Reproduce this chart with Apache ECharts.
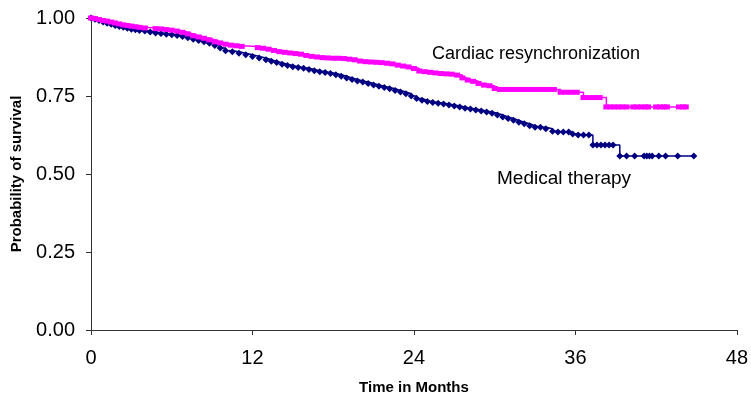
<!DOCTYPE html>
<html>
<head>
<meta charset="utf-8">
<script src="https://cdn.jsdelivr.net/npm/echarts@6/dist/echarts.min.js"></script>
<style>
  html, body { margin: 0; padding: 0; background: #fff; }
  #chart { width: 751px; height: 403px; }
</style>
</head>
<body>
<div id="chart"></div>
<script>
// значения (месяцы / вероятность выживания)
const medTime = [0, 0.3, 0.6, 0.9, 1.2, 1.5, 1.8, 2.1, 2.4, 2.7, 3.0, 3.3, 3.6, 4.0, 4.4, 4.8, 5.2, 5.6, 6.0, 6.4,
    6.8, 7.2, 7.6, 8.0, 8.4, 8.8, 9.2, 9.6, 10.0, 10.5, 11.0, 11.5, 12.0, 12.5, 13.0, 13.4, 13.8, 14.2, 14.6, 15.0,
    15.4, 15.8, 16.2, 16.6, 17.0, 17.4, 17.8, 18.2, 18.6, 19.0, 19.4, 19.8, 20.2, 20.6, 21.0, 21.4, 21.8, 22.2, 22.6, 23.0,
    23.4, 23.8, 24.2, 24.6, 25.0, 25.4, 25.8, 26.2, 26.6, 27.0, 27.4, 27.8, 28.2, 28.6, 29.0, 29.4, 29.8, 30.2, 30.6, 31.0,
    31.4, 31.8, 32.2, 32.6, 33.0, 33.4, 33.8, 34.3, 34.7, 35.1, 35.5, 35.8, 36.2, 36.6, 37.0, 37.3, 37.6, 37.9, 38.2, 38.5,
    38.8, 39.3, 39.8, 40.4, 41.1, 41.3, 41.5, 41.7, 42.2, 42.7, 43.6, 44.8];
const medSurv = [1.000, 0.996, 0.992, 0.987, 0.983, 0.980, 0.976, 0.973, 0.970, 0.967, 0.964, 0.962, 0.960, 0.958, 0.955, 0.952, 0.950, 0.948, 0.946, 0.944,
    0.941, 0.937, 0.932, 0.928, 0.924, 0.919, 0.912, 0.904, 0.895, 0.892, 0.887, 0.882, 0.877, 0.872, 0.866, 0.861, 0.857, 0.852, 0.848, 0.844,
    0.841, 0.839, 0.835, 0.831, 0.828, 0.825, 0.822, 0.818, 0.813, 0.808, 0.803, 0.798, 0.795, 0.790, 0.785, 0.781, 0.777, 0.773, 0.768, 0.763,
    0.757, 0.750, 0.742, 0.736, 0.732, 0.729, 0.727, 0.724, 0.721, 0.718, 0.715, 0.711, 0.708, 0.705, 0.702, 0.699, 0.695, 0.689, 0.683, 0.678,
    0.672, 0.666, 0.661, 0.655, 0.650, 0.650, 0.645, 0.637, 0.635, 0.635, 0.635, 0.628, 0.625, 0.625, 0.625, 0.593, 0.593, 0.593, 0.593, 0.593,
    0.593, 0.558, 0.558, 0.558, 0.558, 0.558, 0.558, 0.558, 0.558, 0.558, 0.558, 0.558];

const crtTime = [0, 0.3, 0.6, 0.9, 1.2, 1.5, 1.8, 2.1, 2.4, 2.7, 3.0, 3.3, 3.6, 4.0, 4.8, 5.2, 5.6, 6.0, 6.4, 6.8,
    7.2, 7.6, 8.0, 8.4, 8.8, 9.2, 9.6, 10.0, 10.4, 10.8, 11.2, 12.4, 12.8, 13.2, 13.6, 14.0, 14.4, 14.8, 15.2, 15.6,
    16.0, 16.4, 16.8, 17.2, 17.6, 18.0, 18.4, 18.8, 19.2, 19.6, 20.0, 20.4, 20.8, 21.2, 21.6, 22.0, 22.4, 22.8, 23.2, 23.6,
    24.0, 24.4, 24.8, 25.2, 25.6, 26.0, 26.4, 26.8, 27.2, 27.6, 28.0, 28.4, 28.8, 29.2, 29.6, 30.0, 30.4, 30.8, 31.2, 31.6,
    32.0, 32.4, 32.8, 33.2, 33.6, 34.0, 34.4, 34.9, 35.3, 35.7, 36.1, 36.6, 37.0, 37.4, 37.8, 38.3, 38.6, 38.9, 39.2, 39.5,
    39.8, 40.3, 40.6, 40.9, 41.2, 41.4, 42.0, 42.3, 42.6, 42.8, 43.7, 44.0, 44.2];
const crtSurv = [1.000, 0.998, 0.995, 0.992, 0.990, 0.987, 0.984, 0.981, 0.978, 0.976, 0.974, 0.972, 0.970, 0.968, 0.966, 0.965, 0.963, 0.961, 0.958, 0.954,
    0.949, 0.943, 0.939, 0.935, 0.930, 0.924, 0.920, 0.916, 0.913, 0.911, 0.909, 0.905, 0.903, 0.900, 0.896, 0.892, 0.890, 0.888, 0.886, 0.884,
    0.880, 0.877, 0.875, 0.873, 0.872, 0.871, 0.871, 0.870, 0.868, 0.866, 0.862, 0.860, 0.859, 0.858, 0.857, 0.855, 0.853, 0.849, 0.846, 0.843,
    0.838, 0.830, 0.828, 0.826, 0.824, 0.822, 0.821, 0.820, 0.817, 0.808, 0.801, 0.797, 0.790, 0.785, 0.783, 0.774, 0.771, 0.771, 0.771, 0.771,
    0.771, 0.771, 0.771, 0.771, 0.771, 0.771, 0.771, 0.762, 0.762, 0.762, 0.762, 0.745, 0.745, 0.745, 0.745, 0.715, 0.715, 0.715, 0.715, 0.715,
    0.715, 0.715, 0.715, 0.715, 0.715, 0.715, 0.715, 0.715, 0.715, 0.715, 0.715, 0.715, 0.715];

const xTicks = [0, 12, 24, 36, 48];
const yTicks = [0, 0.25, 0.5, 0.75, 1.0];

const zip = (a, b) => a.map((t, i) => [t, b[i]]);

const FONT = 'Liberation Sans, Arial, sans-serif';
const chart = echarts.init(document.getElementById('chart'), null, { renderer: 'canvas' });

const option = {
    animation: false,
    backgroundColor: '#fff',
    textStyle: { fontFamily: FONT },
    grid: { left: 91, right: 10, top: 18, bottom: 73 },
    xAxis: {
        type: 'value',
        min: xTicks[0],
        max: xTicks[xTicks.length - 1],
        interval: 12,
        name: 'Time in Months',
        nameLocation: 'middle',
        nameGap: 50,
        nameTextStyle: { fontSize: 15, fontWeight: 'bold', color: '#000' },
        axisLine: { lineStyle: { color: '#333', width: 1 } },
        axisTick: { show: true, length: 5, lineStyle: { color: '#333' } },
        axisLabel: { fontSize: 20, color: '#000', margin: 18 },
        splitLine: { show: false }
    },
    yAxis: {
        type: 'value',
        min: yTicks[0],
        max: yTicks[yTicks.length - 1],
        interval: 0.25,
        name: 'Probability of survival',
        nameLocation: 'middle',
        nameGap: 67,
        nameTextStyle: { fontSize: 15, fontWeight: 'bold', color: '#000' },
        axisLine: { show: true, lineStyle: { color: '#333', width: 1 } },
        axisTick: { show: true, length: 5, lineStyle: { color: '#333' } },
        axisLabel: { fontSize: 20, color: '#000', margin: 16, formatter: v => v.toFixed(2) },
        splitLine: { show: false }
    },
    series: [
        {
            name: 'Medical therapy',
            type: 'line',
            step: 'end',
            data: zip(medTime, medSurv),
            symbol: 'diamond',
            symbolSize: 7,
            showAllSymbol: true,
            lineStyle: { color: '#000080', width: 1.5 },
            itemStyle: { color: '#000080' }
        },
        {
            name: 'Cardiac resynchronization',
            type: 'line',
            step: 'end',
            data: zip(crtTime, crtSurv),
            symbol: 'rect',
            symbolSize: [6, 5],
            showAllSymbol: true,
            lineStyle: { color: '#FF00FF', width: 1.5 },
            itemStyle: { color: '#FF00FF' }
        }
    ],
    graphic: [
        {
            type: 'text', left: 432, top: 45,
            style: { text: 'Cardiac resynchronization', fontSize: 18, fill: '#000', fontFamily: FONT }
        },
        {
            type: 'text', left: 497, top: 169,
            style: { text: 'Medical therapy', fontSize: 19, fill: '#000', fontFamily: FONT }
        }
    ]
};

chart.setOption(option);
</script>
</body>
</html>
